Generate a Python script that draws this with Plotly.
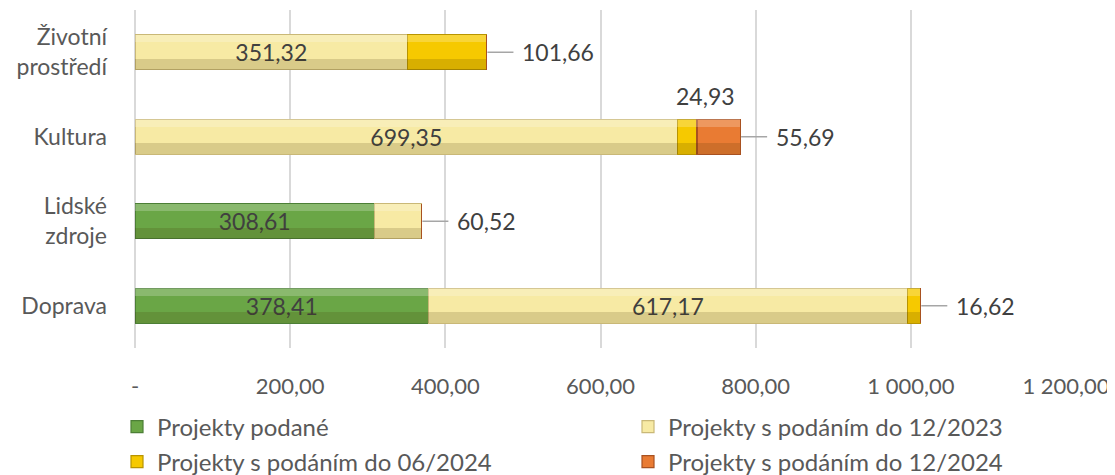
import plotly.graph_objects as go

categories = ["Doprava", "Lidské<br>zdroje", "Kultura", "Životní<br>prostředí"]
series_names = [
    "Projekty podané",
    "Projekty s podáním do 12/2023",
    "Projekty s podáním do 06/2024",
    "Projekty s podáním do 12/2024",
]
podane = [378.41, 308.61, 0, 0]
do_12_2023 = [617.17, 60.52, 699.35, 351.32]
do_06_2024 = [16.62, 0, 24.93, 101.66]
do_12_2024 = [0, 0, 55.69, 0]
tick_vals = [0, 200, 400, 600, 800, 1000, 1200]
tick_text = ["-", "200,00", "400,00", "600,00", "800,00", "1 000,00", "1 200,00"]

colors = ["#6aa646", "#f7eaa4", "#f6c900", "#e97b33"]
edges = ["#4c7f36", "#c9b877", "#b89400", "#a85120"]
values = [podane, do_12_2023, do_06_2024, do_12_2024]
legend_ids = ["legend", "legend2", "legend3", "legend4"]

FONT = "Lato"
TXT = "#404040"
W, H = 1107, 467  # page body adds an 8px offset
BAR_W = 0.415

def fmt(v):
    return f"{v:,.2f}".replace(",", " ").replace(".", ",")

fig = go.Figure()
for si, (name, vals, col, edge, lg) in enumerate(zip(series_names, values, colors, edges, legend_ids)):
    texts = [fmt(v) if (v >= 100 and si < 2) else "" for v in vals]
    fig.add_trace(go.Bar(
        y=categories, x=vals, name=name, orientation="h", legend=lg, showlegend=True,
        width=BAR_W,
        marker=dict(color=col, line=dict(color=edge, width=1.2)),
        text=texts, textposition="inside", insidetextanchor="middle",
        textfont=dict(family=FONT, size=23, color=TXT),
        hoverinfo="skip",
    ))

# bevel-like shading: highlight strip on top, shadow strip at bottom (overlay axes)
for vals in values:
    fig.add_trace(go.Bar(
        y=categories, x=vals, orientation="h", yaxis="y2", showlegend=False,
        offset=-BAR_W / 2, width=BAR_W * 0.32,
        marker=dict(color="rgba(60,45,0,0.16)", line=dict(width=0)),
        hoverinfo="skip",
    ))
for vals in values:
    fig.add_trace(go.Bar(
        y=categories, x=vals, orientation="h", yaxis="y3", showlegend=False,
        offset=BAR_W / 2 - BAR_W * 0.22, width=BAR_W * 0.22,
        marker=dict(color="rgba(255,255,255,0.22)", line=dict(width=0)),
        hoverinfo="skip",
    ))

# outside labels with leader lines: (value, category index)
outside = [
    (do_06_2024[3], 3),
    (do_12_2024[2], 2),
    (do_12_2023[1], 1),
    (do_06_2024[0], 0),
]
totals = [sum(v[i] for v in values) for i in range(len(categories))]
L = 27
shapes = []
annotations = []
for val, ci in outside:
    end = totals[ci]
    shapes.append(dict(type="line", xref="x", yref="y", xsizemode="pixel", xanchor=end,
                       x0=1, x1=L, y0=ci, y1=ci, line=dict(color="#a6a6a6", width=1.5)))
    annotations.append(dict(x=end, y=categories[ci], xref="x", yref="y", text=fmt(val),
                            showarrow=False, xanchor="left", xshift=L + 7,
                            font=dict(family=FONT, size=23, color=TXT)))
# label above the Kultura 06/2024 segment
k = 2
annotations.append(dict(x=do_12_2023[k] + do_06_2024[k] / 2, y=categories[k], xref="x", yref="y",
                        text=fmt(do_06_2024[k]), showarrow=False, yshift=41, xshift=18,
                        font=dict(family=FONT, size=23, color=TXT)))

legend_common = dict(orientation="h", xref="container", yref="container", xanchor="left",
                     yanchor="middle", traceorder="normal", visible=True,
                     font=dict(family=FONT, size=24, color="#595959"),
                     itemwidth=30, bgcolor="rgba(0,0,0,0)")
row_y = [1 - 419 / H, 1 - 454 / H]
col_x = [109 / W, 620 / W]

overlay_axis = dict(overlaying="y", matches="y", visible=False, categoryorder="array",
                    categoryarray=categories, automargin=False)

fig.update_layout(
    width=W, height=H, showlegend=True,
    margin=dict(l=127, r=49, t=2, b=127, autoexpand=False),
    barmode="stack",
    plot_bgcolor="white", paper_bgcolor="white",
    font=dict(family=FONT, size=22, color=TXT),
    xaxis=dict(range=[0, 1200], tickvals=tick_vals, ticktext=tick_text, automargin=False,
               showgrid=True, gridcolor="#d9d9d9", gridwidth=1.5, zeroline=True,
               zerolinecolor="#d9d9d9", zerolinewidth=1.5, ticks="", ticklabelstandoff=23,
               tickfont=dict(family=FONT, size=22, color="#595959")),
    yaxis=dict(categoryorder="array", categoryarray=categories, ticks="", automargin=False,
               range=[-0.5, 3.5],
               ticklabelstandoff=27, tickfont=dict(family=FONT, size=23, color="#595959")),
    yaxis2=overlay_axis,
    yaxis3=overlay_axis,
    legend=dict(legend_common, x=col_x[0], y=row_y[0]),
    legend2=dict(legend_common, x=col_x[1], y=row_y[0]),
    legend3=dict(legend_common, x=col_x[0], y=row_y[1]),
    legend4=dict(legend_common, x=col_x[1], y=row_y[1]),
    shapes=shapes, annotations=annotations,
    uniformtext=dict(mode="show", minsize=10),
)
fig.write_html("out.html")
